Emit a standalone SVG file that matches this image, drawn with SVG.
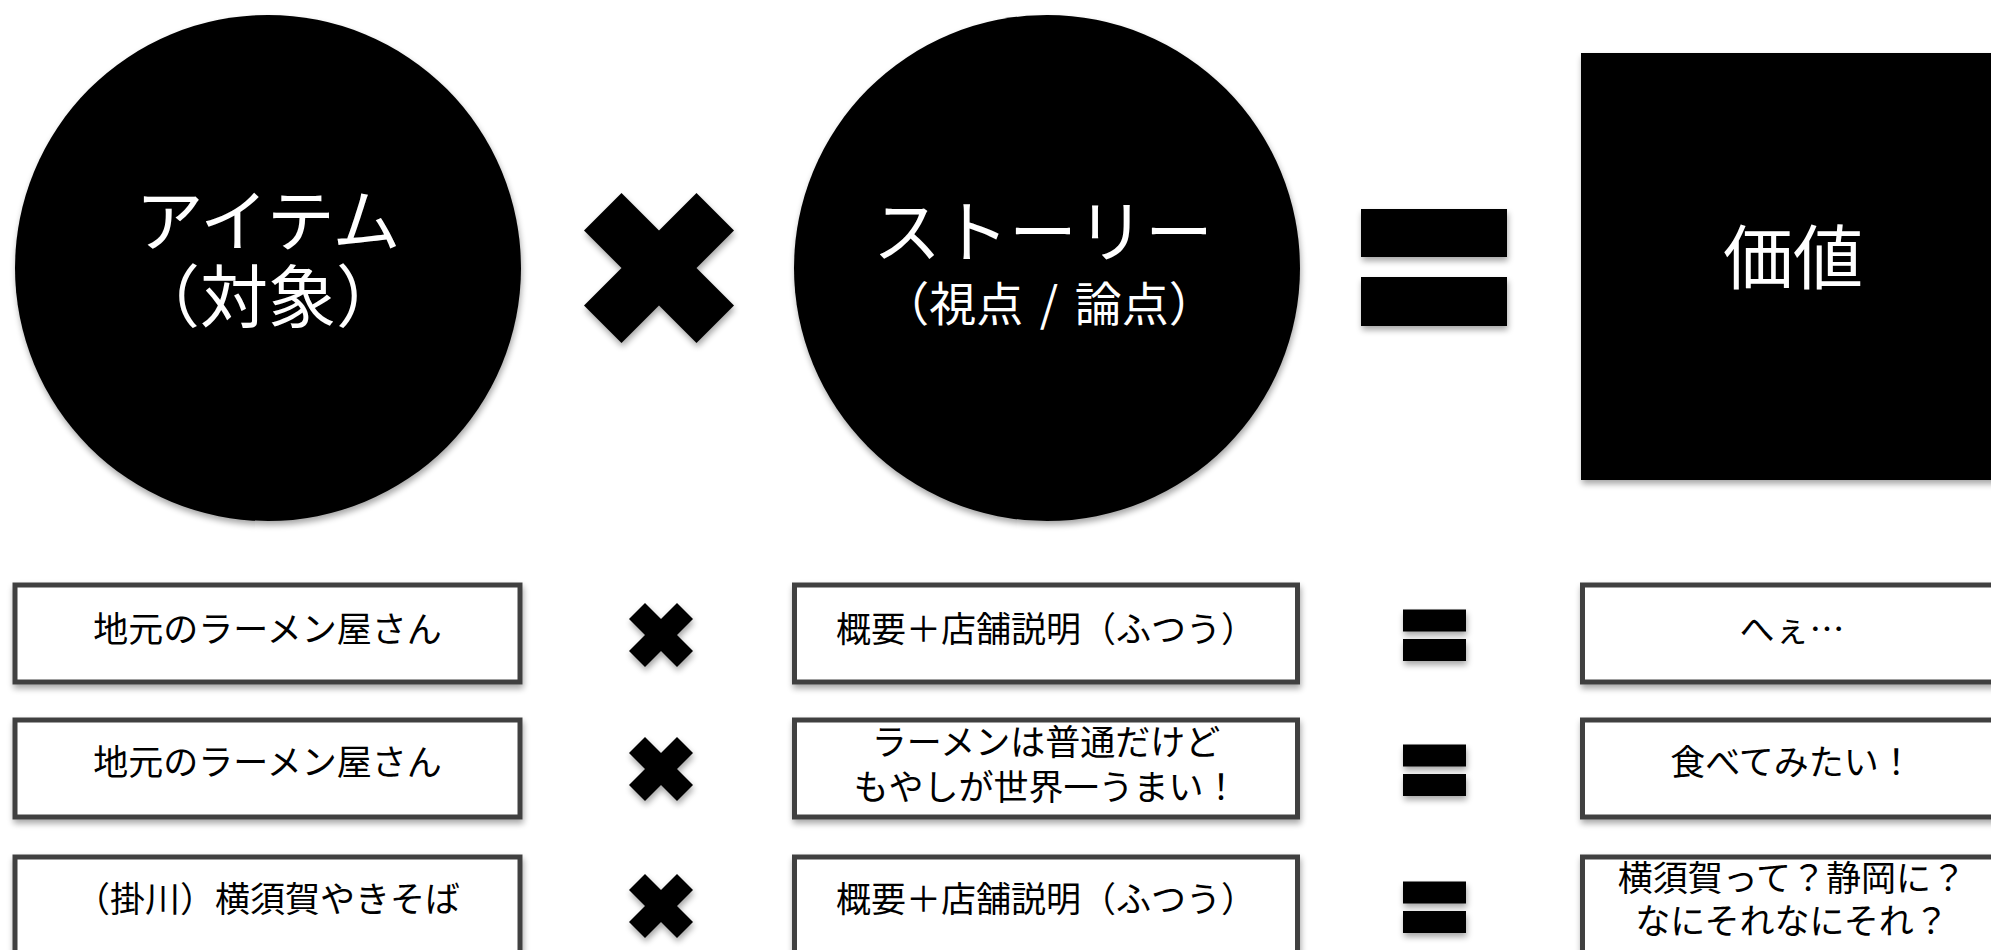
<svg xmlns="http://www.w3.org/2000/svg" xmlns:xlink="http://www.w3.org/1999/xlink" width="1991" height="950" viewBox="0 0 1991 950">
  <style>
    text { font-family: "Noto Sans CJK JP", "Noto Sans", sans-serif; text-anchor: middle; }
    .big { fill: #ffffff; font-size: 68px; }
    .mid { fill: #ffffff; font-size: 47px; word-spacing: 6px; }
    .val { fill: #ffffff; font-size: 70px; }
    .lbl { fill: #000000; font-size: 35px; }
    .shape { fill: #000000; filter: url(#sh); }
    .box { fill: #ffffff; stroke: #404040; stroke-width: 5; filter: url(#sh); }
  </style>
  <defs>
    <filter id="sh" x="-10%" y="-10%" width="130%" height="140%">
      <feGaussianBlur in="SourceAlpha" stdDeviation="3"/>
      <feOffset dx="1" dy="4" result="o"/>
      <feComponentTransfer><feFuncA type="linear" slope="0.35"/></feComponentTransfer>
      <feMerge><feMergeNode/><feMergeNode in="SourceGraphic"/></feMerge>
    </filter>
    <path id="xs" d="M0,-16 L16,-32 L32,-16 L16,0 L32,16 L16,32 L0,16 L-16,32 L-32,16 L-16,0 L-32,-16 L-16,-32 Z"/>
    <g id="eqs">
      <rect x="0" y="0" width="63" height="22"/>
      <rect x="0" y="29.5" width="63" height="22"/>
    </g>
  </defs>
  <rect x="0" y="0" width="1991" height="950" fill="#ffffff"/>

  <g id="item">
    <circle class="shape" cx="268" cy="268" r="253"/>
    <text class="big" x="268" y="246">アイテム</text>
    <text class="big" x="268" y="322">（対象）</text>
  </g>
  <g id="story">
    <circle class="shape" cx="1047" cy="268" r="253"/>
    <text class="big" x="1043" y="257">ストーリー</text>
    <text class="mid" x="1049" y="321">（視点 / 論点）</text>
  </g>
  <g id="value">
    <rect class="shape" x="1581" y="53" width="423" height="427"/>
    <text class="val" x="1793" y="284">価値</text>
  </g>

  <g id="operators">
    <polygon class="shape" points="659,230.5 696.5,193 734,230.5 696.5,268 734,305.5 696.5,343 659,305.5 621.5,343 584,305.5 621.5,268 584,230.5 621.5,193"/>
    <g class="shape">
      <rect x="1361" y="209" width="146" height="48"/>
      <rect x="1361" y="277" width="146" height="49"/>
    </g>
    <use class="shape" href="#xs" x="661" y="635"/>
    <use class="shape" href="#xs" x="661" y="769"/>
    <use class="shape" href="#xs" x="661" y="906"/>
    <use class="shape" href="#eqs" x="1403" y="609.5"/>
    <use class="shape" href="#eqs" x="1403" y="744.5"/>
    <use class="shape" href="#eqs" x="1403" y="881.5"/>
  </g>

  <g id="row1-item">
    <rect class="box" x="15" y="585" width="505" height="97"/>
    <text class="lbl" x="267.5" y="642">地元のラーメン屋さん</text>
  </g>
  <g id="row1-story">
    <rect class="box" x="794.5" y="585" width="503" height="97"/>
    <text class="lbl" x="1046" y="642">概要＋店舗説明（ふつう）</text>
  </g>
  <g id="row1-value">
    <rect class="box" x="1582.5" y="585" width="420" height="97"/>
    <text class="lbl" x="1792" y="642">へぇ…</text>
  </g>

  <g id="row2-item">
    <rect class="box" x="15" y="720" width="505" height="97"/>
    <text class="lbl" x="267.5" y="775">地元のラーメン屋さん</text>
  </g>
  <g id="row2-story">
    <rect class="box" x="794.5" y="720" width="503" height="97"/>
    <text class="lbl" x="1046" y="755">ラーメンは普通だけど</text>
    <text class="lbl" x="1046" y="800">もやしが世界一うまい！</text>
  </g>
  <g id="row2-value">
    <rect class="box" x="1582.5" y="720" width="420" height="97"/>
    <text class="lbl" x="1792" y="775">食べてみたい！</text>
  </g>

  <g id="row3-item">
    <rect class="box" x="15" y="857" width="505" height="97"/>
    <text class="lbl" x="267.5" y="912">（掛川）横須賀やきそば</text>
  </g>
  <g id="row3-story">
    <rect class="box" x="794.5" y="857" width="503" height="97"/>
    <text class="lbl" x="1046" y="912">概要＋店舗説明（ふつう）</text>
  </g>
  <g id="row3-value">
    <rect class="box" x="1582.5" y="857" width="420" height="97"/>
    <text class="lbl" x="1792" y="891">横須賀って？静岡に？</text>
    <text class="lbl" x="1792" y="934">なにそれなにそれ？</text>
  </g>
</svg>
